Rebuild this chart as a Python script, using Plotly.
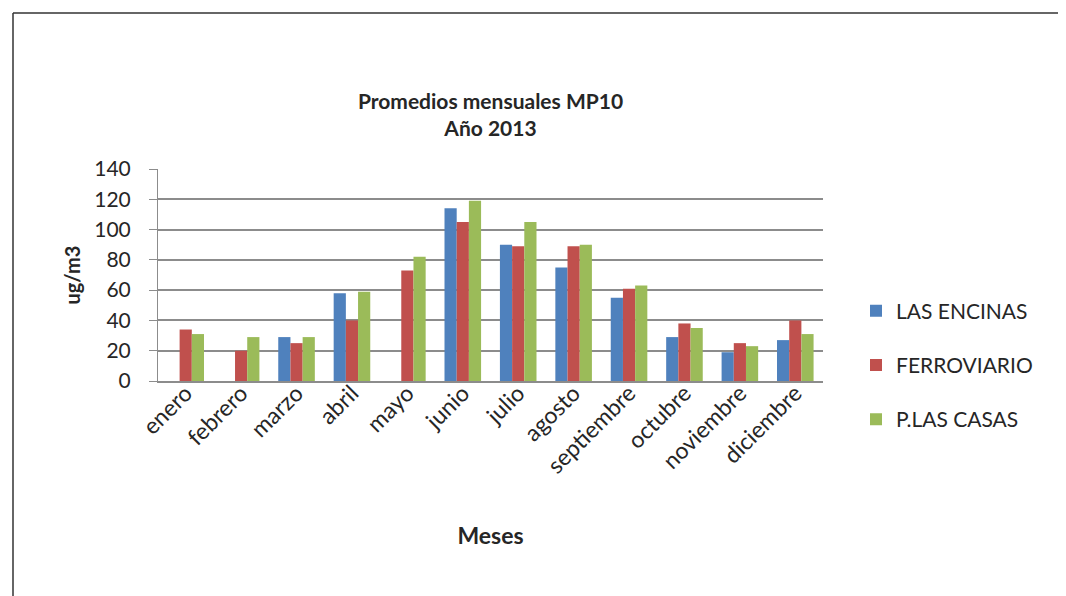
import plotly.graph_objects as go

meses = ["enero", "febrero", "marzo", "abril", "mayo", "junio", "julio",
         "agosto", "septiembre", "octubre", "noviembre", "diciembre"]
las_encinas = [None, None, 29, 58, None, 114, 90, 75, 55, 29, 19, 27]
ferroviario = [34, 20, 25, 40, 73, 105, 89, 89, 61, 38, 25, 40]
p_las_casas = [31, 29, 29, 59, 82, 119, 105, 90, 63, 35, 23, 31]

series_names = ["LAS ENCINAS", "FERROVIARIO", "P.LAS CASAS"]
series_values = [las_encinas, ferroviario, p_las_casas]
colors = ["#4F81BD", "#C0504D", "#9BBB59"]

FONT = "Lato"
TXT = "#262626"

fig = go.Figure()
for i, (name, vals, col) in enumerate(zip(series_names, series_values, colors)):
    fig.add_trace(go.Bar(x=meses, y=vals, name=name, marker_color=col,
                         marker_line_width=0, legendgroup=f"g{i}"))

# page body has an 8px margin, so the figure is drawn 8px in from the window edge
OFF = 8
W, H = 1066 - OFF, 596 - OFF
ml, mr, mt, mb = 150, 243, 161, 215
pw = W - ml - mr
ph = H - mt - mb

def px_x(x):
    return (x - OFF - ml) / pw

def px_y(y):
    return (H - mb - (y - OFF)) / ph

fig.update_layout(
    width=W, height=H,
    margin=dict(l=ml, r=mr, t=mt, b=mb, autoexpand=False),
    paper_bgcolor="white", plot_bgcolor="white",
    barmode="group", bargap=0.34, bargroupgap=0,
    font=dict(family=FONT, color=TXT, size=21),
    title=dict(text="<b>Promedios mensuales MP10<br>Año 2013</b>",
               x=0.5, xref="paper", xanchor="center",
               y=1 - 100.5 / H, yref="container", yanchor="middle",
               font=dict(family=FONT, size=21, color=TXT)),
    legend=dict(x=px_x(856), xanchor="left", y=px_y(365), yanchor="middle",
                font=dict(family=FONT, size=21, color=TXT),
                tracegroupgap=24, itemwidth=30,
                bgcolor="rgba(0,0,0,0)"),
    showlegend=True,
)
fig.update_yaxes(range=[0, 140], dtick=20, showgrid=True, gridcolor="#8C8C8C",
                 gridwidth=1.5, showline=True, linecolor="#8C8C8C", linewidth=1,
                 ticks="outside", ticklen=8, tickcolor="#8C8C8C",
                 ticklabelstandoff=14, zeroline=False,
                 tickfont=dict(family=FONT, size=21, color=TXT),
                 title=dict(text="<b>ug/m3</b>", standoff=8,
                            font=dict(family=FONT, size=20, color=TXT)))
fig.update_xaxes(showline=True, linecolor="#8C8C8C", linewidth=1.5,
                 tickangle=-45, ticks="", ticklabelstandoff=-12,
                 tickfont=dict(family=FONT, size=23, color=TXT),
                 title=dict(text="<b>Meses</b>", standoff=50,
                            font=dict(family=FONT, size=23, color=TXT)))

# outer chart frame (top and left edges visible in the reference)
fig.add_shape(type="line", xref="paper", yref="paper",
              x0=px_x(13), x1=px_x(1070), y0=px_y(13), y1=px_y(13),
              line=dict(color="#333333", width=1.5))
fig.add_shape(type="line", xref="paper", yref="paper",
              x0=px_x(13), x1=px_x(13), y0=px_y(13), y1=px_y(600),
              line=dict(color="#333333", width=1.5))

fig.write_html("out.html")
